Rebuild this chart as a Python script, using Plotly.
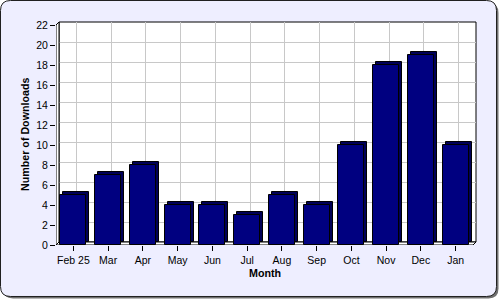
import plotly.graph_objects as go

# ---- data ----
months = ["Feb 25", "Mar", "Apr", "May", "Jun", "Jul", "Aug", "Sep", "Oct", "Nov", "Dec", "Jan"]
downloads = [5, 7, 8, 4, 4, 3, 5, 4, 10, 18, 19, 10]
y_ticks = list(range(0, 23, 2))

# ---- geometry (pixels) ----
W, H = 500, 300
L, R, T, B = 56, 24, 22, 55          # plot area incl. 3D depth
D = 3                                # 3D depth in px
PW, PH = W - L - R, H - T - B        # 420 x 223
n = len(months)
CW = (PW - D) / n                    # category width px
UY = (PH - D) / 22.0                 # px per unit
XR = [-0.5, -0.5 + PW / CW]
YR = [0, PH / UY]

def P(px, py):
    return (px - L) / PW, (H - B - py) / PH

def Dd(px, py):
    return -0.5 + (px - L) / CW, (H - B - py) / UY

def rrect(x0, y0, x1, y1, r):
    pts = [("M", [(x0 + r, y0)]), ("L", [(x1 - r, y0)]), ("Q", [(x1, y0), (x1, y0 + r)]),
           ("L", [(x1, y1 - r)]), ("Q", [(x1, y1), (x1 - r, y1)]), ("L", [(x0 + r, y1)]),
           ("Q", [(x0, y1), (x0, y1 - r)]), ("L", [(x0, y0 + r)]), ("Q", [(x0, y0), (x0 + r, y0)])]
    s = ""
    for cmd, ps in pts:
        s += cmd + " " + " ".join("%.5f,%.5f" % P(*p) for p in ps) + " "
    return s + "Z"

def dpath(points):
    s = "M " + " L ".join("%.5f,%.5f" % Dd(*p) for p in points) + " Z"
    return s

FONT = "Liberation Sans, Arial, sans-serif"

fig = go.Figure()
# depth (side/top) of each bar
fig.add_trace(go.Bar(
    x=months, y=downloads, base=D / UY, width=0.75, offset=-0.375 + D / CW,
    marker=dict(color="#000058", line=dict(color="black", width=1)),
    hoverinfo="skip", showlegend=False))
# front face
fig.add_trace(go.Bar(
    x=months, y=downloads, width=0.75,
    marker=dict(color="#000080", line=dict(color="black", width=1)),
    showlegend=False))
# carrier for the shifted back-wall grid
fig.add_trace(go.Scatter(x=[], y=[], xaxis="x2", yaxis="y2", showlegend=False, hoverinfo="skip"))

shapes = []
# frame shadow + frame
shapes.append(dict(type="path", xref="paper", yref="paper", layer="below",
                   path=rrect(3, 3, 498.5, 298.5, 10), fillcolor="#707070", line=dict(width=0)))
shapes.append(dict(type="path", xref="paper", yref="paper", layer="below",
                   path=rrect(0.5, 0.5, 496.5, 296.5, 10), fillcolor="#EEEEFF",
                   line=dict(color="#202020", width=1)))
# back wall
bx0, by0 = P(L + D, T)
bx1, by1 = P(W - R, H - B - D)
shapes.append(dict(type="rect", xref="paper", yref="paper", layer="below",
                   x0=bx0, x1=bx1, y0=by1, y1=by0, fillcolor="white",
                   line=dict(color="black", width=1)))
# left wall
shapes.append(dict(type="path", xref="x", yref="y", layer="between",
                   path=dpath([(L, H - B), (L, T + D), (L + D, T), (L + D, H - B - D)]),
                   fillcolor="white", line=dict(color="black", width=1)))
# floor
shapes.append(dict(type="path", xref="x", yref="y", layer="between",
                   path=dpath([(L, H - B), (L + D, H - B - D), (W - R, H - B - D), (W - R - D, H - B)]),
                   fillcolor="white", line=dict(color="black", width=1)))

mx, my = P((L + W - R - D) / 2, 273)
tx, ty = P(25, (T + D + H - B) / 2)

fig.update_layout(
    width=W, height=H,
    margin=dict(l=L, r=R, t=T, b=B, pad=0),
    paper_bgcolor="white", plot_bgcolor="rgba(0,0,0,0)",
    barmode="overlay", bargap=0,
    font=dict(family=FONT, size=10, color="black"),
    shapes=shapes,
    xaxis=dict(type="category", range=XR, showgrid=False, zeroline=False, showline=False,
               ticks="outside", ticklen=5, tickcolor="black", tickwidth=1,
               tickfont=dict(family=FONT, size=10.5, color="black"), automargin=False),
    yaxis=dict(range=YR, tickvals=y_ticks, showgrid=False, zeroline=False, showline=False,
               ticks="outside", ticklen=5, tickcolor="black", tickwidth=1,
               tickfont=dict(family=FONT, size=10.5, color="black"), automargin=False),
    xaxis2=dict(type="linear", overlaying="x", anchor="y2",
                range=[XR[0] - D / CW, XR[1] - D / CW], tick0=0, dtick=1,
                showgrid=True, gridcolor="#C8C8C8", gridwidth=1, zeroline=False,
                showline=False, ticks="", showticklabels=False),
    yaxis2=dict(type="linear", overlaying="y", anchor="x2",
                range=[YR[0] - D / UY, YR[1] - D / UY], tick0=0, dtick=2,
                showgrid=True, gridcolor="#C8C8C8", gridwidth=1, zeroline=False,
                showline=False, ticks="", showticklabels=False),
    annotations=[
        dict(text="<b>Month</b>", xref="paper", yref="paper", x=mx, y=my,
             xanchor="center", yanchor="middle", showarrow=False,
             font=dict(family=FONT, size=10.7, color="black")),
        dict(text="<b>Number of Downloads</b>", xref="paper", yref="paper", x=tx, y=ty,
             xanchor="center", yanchor="middle", textangle=-90, showarrow=False,
             font=dict(family=FONT, size=10.7, color="black")),
    ],
)

fig.write_html("out.html")
